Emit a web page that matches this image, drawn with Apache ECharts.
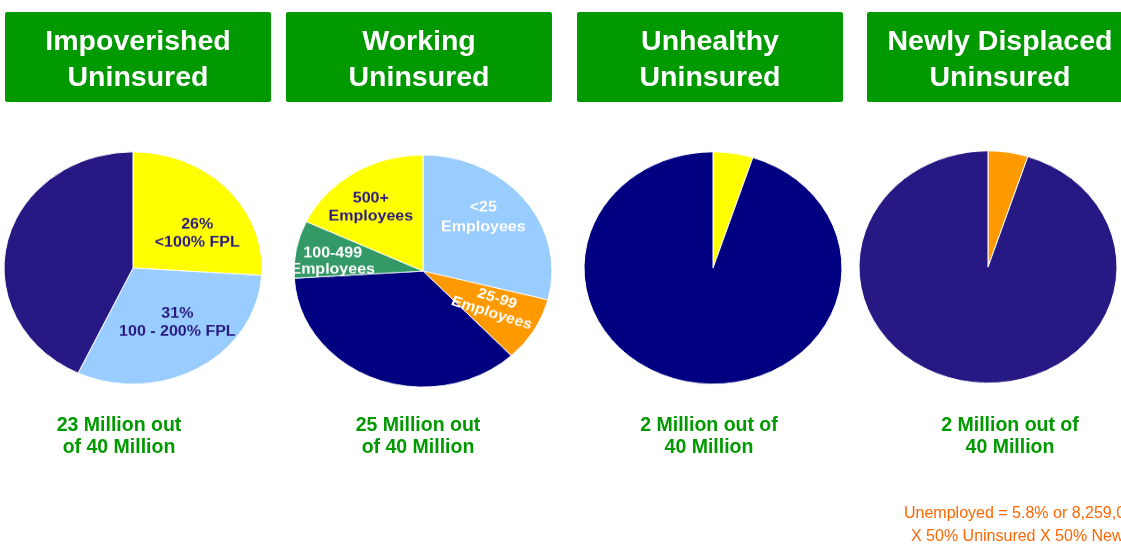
<!DOCTYPE html>
<html><head><meta charset="utf-8">
<script src="https://cdn.jsdelivr.net/npm/echarts@6/dist/echarts.min.js"></script>
<style>
html,body{margin:0;padding:0;background:#fff;overflow:hidden;}
#wrap{position:relative;width:1121px;height:546px;overflow:hidden;}
#base{position:absolute;left:0;top:0;width:1121px;height:546px;}
#pies{position:absolute;left:0;top:0;width:1121px;height:607px;transform:scaleY(0.9);transform-origin:0 0;}
</style>
</head><body><div id="wrap"><div id="base"></div><div id="pies"></div></div>
<script>
// ---- data ----
const headerTitles = ['Impoverished\nUninsured', 'Working\nUninsured', 'Unhealthy\nUninsured', 'Newly Displaced\nUninsured'];
const subtitles = ['23 Million out\nof 40 Million', '25 Million out\nof 40 Million', '2 Million out of\n40 Million', '2 Million out of\n40 Million'];
const impoverishedCats = ['<100% FPL', '100 - 200% FPL', 'Other'];
const impoverishedVals = [26, 31, 43];
const workingCats = ['<25\nEmployees', '25-99\nEmployees', 'Other', '100-499\nEmployees', '500+\nEmployees'];
const workingVals = [29, 9, 36, 8, 18];
const unhealthyCats = ['Unhealthy', 'Other'];
const unhealthyVals = [5, 95];
const displacedCats = ['Newly Displaced', 'Other'];
const displacedVals = [5, 95];
const footnoteLines = ['Unemployed = 5.8% or 8,259,000', 'X 50% Uninsured X 50% Newly Displaced'];

// ---- layout & style ----
const FONT = '"Liberation Sans", Arial, sans-serif';
const GREEN = '#009900';
const NAVY = '#000080';
const PURPLE = '#271983';
const boxX = [5, 286, 577, 867];
const boxW = 266, boxY = 12, boxH = 90;
const subX = [119, 418, 709, 1010];
const SY = 0.9; // vertical squash of the pie layer (pies are drawn as ellipses)
const pieCentersScreen = [[133, 268], [423, 271], [713, 268], [988, 267]];
const pieR = 129;

const impColors = ['#ffff00', '#99ccff', PURPLE];
const impShow = [true, true, false];
const impOffsets = [[15, 8], [10, 3], [0, 0]];

const workColors = ['#99ccff', '#ff9900', NAVY, '#339966', '#ffff00'];
const workShow = [true, true, false, true, true];
const workTextColors = ['#ffffff', '#ffffff', '#ffffff', '#ffffff', '#2a1a80'];
const workRotate = [0, -19, 0, 0, 0];
const workLineH = [22, 17, 20, 18, 20];
const workOffsets = [[7, -18], [14, 0], [0, 0], [-24, 2], [-16, -14]];

const uhColors = ['#ffff00', NAVY];
const dpColors = ['#ff9900', PURPLE];

function basePie(idx) {
  const c = pieCentersScreen[idx];
  return {
    type: 'pie',
    center: [c[0], c[1] / SY],
    radius: pieR,
    startAngle: 90,
    clockwise: true,
    silent: true,
    animation: false,
    avoidLabelOverlap: false,
    labelLine: { show: false },
    itemStyle: { borderColor: '#ffffff', borderWidth: 1 },
    emphasis: { disabled: true },
    label: {
      show: false, position: 'inside', fontFamily: FONT, fontWeight: 'bold',
      fontSize: 16, lineHeight: 20, align: 'center'
    }
  };
}

const s1 = basePie(0);
s1.data = impoverishedVals.map((v, i) => ({
  name: impoverishedCats[i], value: v,
  itemStyle: { color: impColors[i] },
  label: { show: impShow[i], color: '#2a1a80', formatter: p => p.value + '%\n' + p.name }
}));
s1.labelLayout = p => ({ dx: impOffsets[p.dataIndex][0], dy: impOffsets[p.dataIndex][1] });

const s2 = basePie(1);
s2.data = workingVals.map((v, i) => ({
  name: workingCats[i], value: v,
  itemStyle: { color: workColors[i] },
  label: { show: workShow[i], color: workTextColors[i], rotate: workRotate[i], lineHeight: workLineH[i], formatter: '{b}' }
}));
s2.labelLayout = p => ({ dx: workOffsets[p.dataIndex][0], dy: workOffsets[p.dataIndex][1] });

const s3 = basePie(2);
s3.data = unhealthyVals.map((v, i) => ({ name: unhealthyCats[i], value: v, itemStyle: { color: uhColors[i] } }));

const s4 = basePie(3);
s4.data = displacedVals.map((v, i) => ({ name: displacedCats[i], value: v, itemStyle: { color: dpColors[i] } }));

const graphics = [];
headerTitles.forEach((t, i) => {
  graphics.push({ type: 'rect', silent: true, shape: { x: boxX[i], y: boxY, width: boxW, height: boxH, r: 2 }, style: { fill: GREEN } });
  graphics.push({ type: 'text', silent: true, x: boxX[i] + boxW / 2, y: boxY + boxH / 2 + 3,
    style: { text: t, fill: '#ffffff', font: 'bold 28.5px ' + FONT, lineHeight: 36, align: 'center', verticalAlign: 'middle' } });
});
subtitles.forEach((t, i) => {
  graphics.push({ type: 'text', silent: true, x: subX[i], y: 437,
    style: { text: t, fill: GREEN, font: 'bold 19.5px ' + FONT, lineHeight: 22, align: 'center', verticalAlign: 'middle' } });
});
graphics.push({ type: 'text', silent: true, x: 904, y: 514,
  style: { text: footnoteLines[0], fill: '#ff6600', font: '16px ' + FONT, align: 'left', verticalAlign: 'middle' } });
graphics.push({ type: 'text', silent: true, x: 911, y: 537,
  style: { text: footnoteLines[1], fill: '#ff6600', font: '16px ' + FONT, align: 'left', verticalAlign: 'middle' } });

const base = echarts.init(document.getElementById('base'), null, { renderer: 'canvas' });
base.setOption({ animation: false, backgroundColor: '#ffffff', graphic: graphics });

const pies = echarts.init(document.getElementById('pies'), null, { renderer: 'canvas' });
pies.setOption({ animation: false, backgroundColor: 'transparent', series: [s1, s2, s3, s4] });
</script>
</body></html>
